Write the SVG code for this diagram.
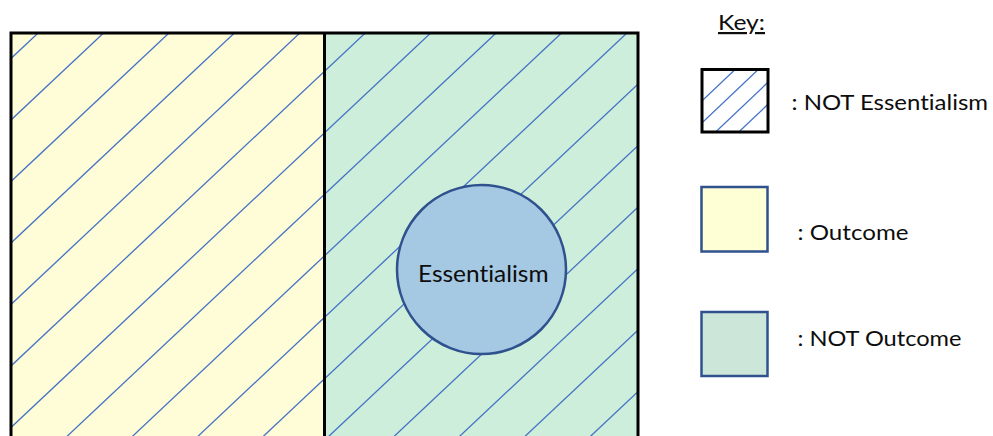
<svg xmlns="http://www.w3.org/2000/svg" width="993" height="436" viewBox="0 0 993 436">
  <style>
    .hatch { stroke: #4472C4; stroke-width: 1.3; fill: none; }
    .label { font-family: Lato, "Liberation Sans", sans-serif; fill: #0D0D0D; font-variant-ligatures: none; }
    .keybox { stroke: #2F528F; stroke-width: 2.5; }
  </style>
  <defs>
    <clipPath id="mainClip"><rect x="11" y="33" width="627" height="420"/></clipPath>
    <clipPath id="keyClip"><rect x="702" y="69" width="66" height="63"/></clipPath>
  </defs>
  <rect width="993" height="436" fill="#FFFFFF"/>

  <g id="outcome">
    <rect x="11" y="33" width="313.5" height="420" fill="#FFFDD7"/>
  </g>
  <g id="not-outcome">
    <rect x="324.5" y="33" width="313.5" height="420" fill="#CCEEDA"/>
  </g>

  <g id="hatching" class="hatch" clip-path="url(#mainClip)">
    <path d="M11 58.5 L650 -542.16"/>
    <path d="M11 120 L650 -480.66"/>
    <path d="M11 181.5 L650 -419.16"/>
    <path d="M11 243 L650 -357.66"/>
    <path d="M11 304.5 L650 -296.16"/>
    <path d="M11 366 L650 -234.66"/>
    <path d="M11 427.5 L650 -173.16"/>
    <path d="M11 489 L650 -111.66"/>
    <path d="M11 550.5 L650 -50.16"/>
    <path d="M11 612 L650 11.34"/>
    <path d="M11 673.5 L650 72.84"/>
    <path d="M11 735 L650 134.34"/>
    <path d="M11 796.5 L650 195.84"/>
    <path d="M11 858 L650 257.34"/>
    <path d="M11 919.5 L650 318.84"/>
    <path d="M11 981 L650 380.34"/>
  </g>

  <g id="essentialism">
    <circle cx="481.5" cy="269.5" r="84.5" fill="#A5C8E3" stroke="#2F528F" stroke-width="2.5"/>
    <text class="label" x="418" y="281.5" font-size="23" textLength="130.5" lengthAdjust="spacingAndGlyphs">Essentialism</text>
  </g>

  <g id="frame" fill="none" stroke="#000000" stroke-width="3">
    <rect x="11" y="33" width="627" height="420"/>
    <line x1="324.5" y1="33" x2="324.5" y2="453"/>
  </g>

  <g id="key">
    <text class="label" x="718" y="30" font-size="22" text-decoration="underline" textLength="47" lengthAdjust="spacingAndGlyphs">Key:</text>

    <g id="key-not-essentialism">
      <rect x="702" y="69.5" width="66" height="62.5" fill="#FFFFFF"/>
      <g class="hatch" clip-path="url(#keyClip)">
        <path d="M700 102.85 L772 34.45"/>
        <path d="M700 124.85 L772 56.45"/>
        <path d="M700 146.85 L772 78.45"/>
        <path d="M700 168.85 L772 100.45"/>
      </g>
      <rect x="702" y="69.5" width="66" height="62.5" fill="none" stroke="#000000" stroke-width="3"/>
      <text class="label" x="791.5" y="110" font-size="22" textLength="196.5" lengthAdjust="spacingAndGlyphs">: NOT Essentialism</text>
    </g>

    <g id="key-outcome">
      <rect class="keybox" x="701.5" y="187" width="66" height="64.5" fill="#FFFFD5"/>
      <text class="label" x="797.5" y="240" font-size="22" textLength="111" lengthAdjust="spacingAndGlyphs">: Outcome</text>
    </g>

    <g id="key-not-outcome">
      <rect class="keybox" x="701.5" y="312" width="66" height="64" fill="#CCE7DA"/>
      <text class="label" x="797.5" y="345.5" font-size="22" textLength="164" lengthAdjust="spacingAndGlyphs">: NOT Outcome</text>
    </g>
  </g>
</svg>
